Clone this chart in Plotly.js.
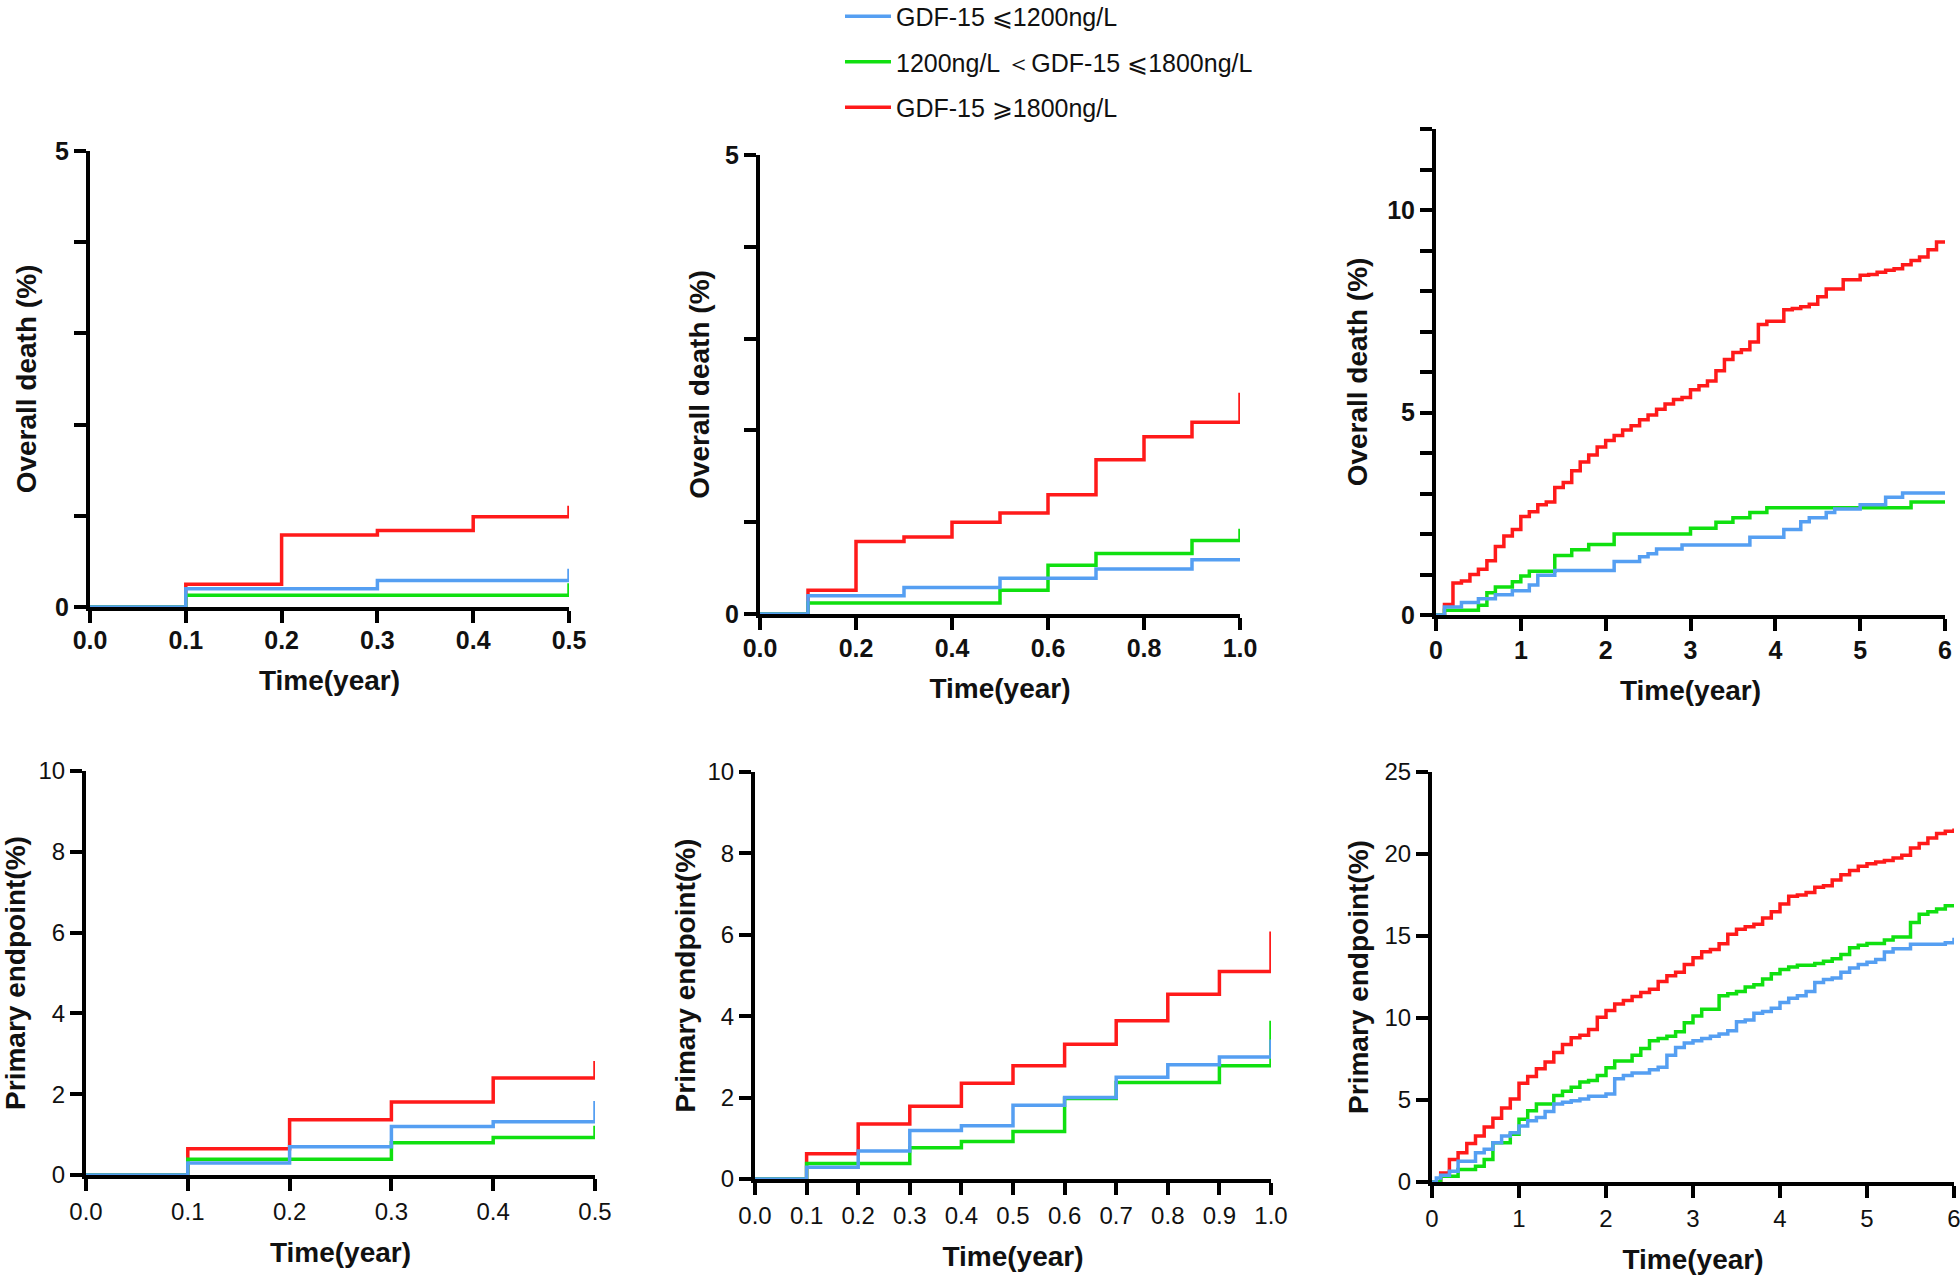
<!DOCTYPE html>
<html><head><meta charset="utf-8">
<script src="https://cdn.plot.ly/plotly-3.0.1.min.js"></script>
<style>html,body{margin:0;padding:0;background:#fff}#chart{width:1960px;height:1280px}</style>
</head><body><div id="chart"></div>
<script>
// Legend labels (groups)
const groupNames = ['GDF-15 \u2A7D1200ng/L', '1200ng/L \uFF1CGDF-15 \u2A7D1800ng/L', 'GDF-15 \u2A7E1800ng/L'];
const groupColors = ['#559FF2', '#10E010', '#FF1A1A'];

// Axis titles
const titleDeath = 'Overall death (%)';
const titlePrimary = 'Primary endpoint(%)';
const titleTime = 'Time(year)';

// Tick labels
const xTicksHalfVals = [0, 0.1, 0.2, 0.3, 0.4, 0.5];
const xTicksHalfText = ['0.0', '0.1', '0.2', '0.3', '0.4', '0.5'];
const xTicksYearVals = [0, 0.2, 0.4, 0.6, 0.8, 1.0];
const xTicksYearText = ['0.0', '0.2', '0.4', '0.6', '0.8', '1.0'];
const xTicksYearFineVals = [0, 0.1, 0.2, 0.3, 0.4, 0.5, 0.6, 0.7, 0.8, 0.9, 1.0];
const xTicksYearFineText = ['0.0', '0.1', '0.2', '0.3', '0.4', '0.5', '0.6', '0.7', '0.8', '0.9', '1.0'];
const xTicksSixVals = [0, 1, 2, 3, 4, 5, 6];
const xTicksSixText = ['0', '1', '2', '3', '4', '5', '6'];
const yTicksDeath5Vals = [0, 1, 2, 3, 4, 5];
const yTicksDeath5Text = ['0', '', '', '', '', '5'];
const yTicksDeath12Vals = [0, 1, 2, 3, 4, 5, 6, 7, 8, 9, 10, 11, 12];
const yTicksDeath12Text = ['0', '', '', '', '', '5', '', '', '', '', '10', '', ''];
const yTicksPrim10Vals = [0, 2, 4, 6, 8, 10];
const yTicksPrim10Text = ['0', '2', '4', '6', '8', '10'];
const yTicksPrim25Vals = [0, 5, 10, 15, 20, 25];
const yTicksPrim25Text = ['0', '5', '10', '15', '20', '25'];

// ---- Panel A: overall death, 0-0.5 year ----
const odHalfLowT = [0, 0.1, 0.3, 0.5];
const odHalfLowY = [0, 0.20, 0.29, 0.42];
const odHalfMidT = [0, 0.1, 0.5];
const odHalfMidY = [0, 0.13, 0.26];
const odHalfHighT = [0, 0.1, 0.2, 0.3, 0.4, 0.5];
const odHalfHighY = [0, 0.25, 0.79, 0.84, 0.99, 1.11];

// ---- Panel B: overall death, 0-1 year ----
const od1LowT = [0, 0.1, 0.3, 0.5, 0.7, 0.9, 1.0];
const od1LowY = [0, 0.20, 0.29, 0.39, 0.49, 0.59, 0.59];
const od1MidT = [0, 0.1, 0.5, 0.6, 0.7, 0.9, 1.0];
const od1MidY = [0, 0.12, 0.26, 0.53, 0.66, 0.80, 0.93];
const od1HighT = [0, 0.1, 0.2, 0.3, 0.4, 0.5, 0.6, 0.7, 0.8, 0.9, 1.0];
const od1HighY = [0, 0.26, 0.79, 0.84, 1.00, 1.10, 1.30, 1.68, 1.93, 2.09, 2.41];

// ---- Panel C: overall death, 0-6 years ----
const od6LowT = [0, 0.1, 0.3, 0.5, 0.7, 0.9, 1.1, 1.2, 1.4, 2.1, 2.4, 2.5, 2.6, 2.9, 3.7, 4.1, 4.3, 4.4, 4.6, 4.7, 5.0, 5.3, 5.5, 6.0];
const od6LowY = [0, 0.20, 0.31, 0.40, 0.50, 0.60, 0.74, 0.98, 1.10, 1.32, 1.44, 1.51, 1.63, 1.73, 1.92, 2.11, 2.30, 2.40, 2.53, 2.62, 2.72, 2.91, 3.01, 3.01];
const od6MidT = [0, 0.1, 0.5, 0.6, 0.7, 0.9, 1.0, 1.1, 1.4, 1.6, 1.8, 2.1, 3.0, 3.3, 3.5, 3.7, 3.9, 5.6, 6.0];
const od6MidY = [0, 0.12, 0.24, 0.55, 0.69, 0.82, 0.96, 1.08, 1.47, 1.61, 1.74, 2.00, 2.14, 2.29, 2.40, 2.53, 2.65, 2.79, 2.79];
const od6HighT = [0, 0.1, 0.2, 0.3, 0.4, 0.5, 0.6, 0.7, 0.8, 0.9, 1.0, 1.1, 1.2, 1.3, 1.4, 1.5, 1.6, 1.7, 1.8, 1.9,
  2.0, 2.1, 2.2, 2.3, 2.4, 2.5, 2.6, 2.7, 2.8, 2.9, 3.0, 3.1, 3.2, 3.3, 3.4, 3.5, 3.6, 3.7, 3.8, 3.9,
  4.1, 4.2, 4.3, 4.4, 4.5, 4.6, 4.8, 5.0, 5.1, 5.2, 5.3, 5.4, 5.5, 5.6, 5.7, 5.8, 5.9, 6.0];
const od6HighY = [0, 0.26, 0.79, 0.84, 1.00, 1.13, 1.34, 1.69, 1.95, 2.11, 2.43, 2.55, 2.72, 2.79, 3.15, 3.27, 3.56, 3.78, 3.95, 4.15,
  4.31, 4.43, 4.57, 4.67, 4.82, 4.94, 5.08, 5.21, 5.32, 5.37, 5.56, 5.66, 5.78, 6.03, 6.31, 6.48, 6.55, 6.74, 7.17, 7.25,
  7.54, 7.57, 7.61, 7.67, 7.86, 8.05, 8.28, 8.39, 8.41, 8.46, 8.51, 8.55, 8.65, 8.75, 8.84, 9.02, 9.21, 9.25];

// ---- Panel D: primary endpoint, 0-0.5 year ----
const peHalfLowT = [0, 0.1, 0.2, 0.3, 0.4, 0.5];
const peHalfLowY = [0, 0.30, 0.70, 1.20, 1.32, 1.83];
const peHalfMidT = [0, 0.1, 0.3, 0.4, 0.5];
const peHalfMidY = [0, 0.39, 0.80, 0.93, 1.22];
const peHalfHighT = [0, 0.1, 0.2, 0.3, 0.4, 0.5];
const peHalfHighY = [0, 0.65, 1.37, 1.81, 2.40, 2.82];

// ---- Panel E: primary endpoint, 0-1 year ----
const pe1LowT = [0, 0.1, 0.2, 0.3, 0.4, 0.5, 0.6, 0.7, 0.8, 0.9, 1.0];
const pe1LowY = [0, 0.29, 0.69, 1.19, 1.31, 1.81, 2.00, 2.50, 2.81, 3.00, 3.43];
const pe1MidT = [0, 0.1, 0.3, 0.4, 0.5, 0.6, 0.7, 0.9, 1.0];
const pe1MidY = [0, 0.38, 0.77, 0.92, 1.17, 1.98, 2.37, 2.78, 3.89];
const pe1HighT = [0, 0.1, 0.2, 0.3, 0.4, 0.5, 0.6, 0.7, 0.8, 0.9, 1.0];
const pe1HighY = [0, 0.62, 1.35, 1.79, 2.35, 2.78, 3.31, 3.89, 4.54, 5.10, 6.08];

// ---- Panel F: primary endpoint, 0-6 years ----
const pe6LowT = [0, 0.05, 0.1, 0.2, 0.3, 0.5, 0.6, 0.7, 0.8, 0.9, 1.0, 1.1, 1.2, 1.3, 1.4, 1.5, 1.6, 1.7, 1.8,
  2.0, 2.1, 2.2, 2.3, 2.5, 2.6, 2.7, 2.8, 2.9, 3.0, 3.1, 3.2, 3.3, 3.4, 3.5, 3.6, 3.7, 3.8, 3.9,
  4.0, 4.1, 4.2, 4.3, 4.4, 4.5, 4.6, 4.7, 4.8, 4.9, 5.0, 5.1, 5.2, 5.3, 5.5, 5.9, 6.0];
const pe6LowY = [0, 0.25, 0.41, 0.66, 1.27, 1.78, 1.99, 2.40, 2.81, 3.01, 3.42, 3.73, 3.93, 4.30, 4.75, 4.86, 4.96, 5.06, 5.23,
  5.37, 6.29, 6.50, 6.64, 6.84, 7.00, 7.73, 8.20, 8.48, 8.61, 8.75, 8.89, 9.02, 9.22, 9.77, 9.88, 10.29, 10.39, 10.59,
  10.94, 11.21, 11.35, 11.62, 12.17, 12.34, 12.44, 12.79, 13.05, 13.26, 13.40, 13.57, 14.02, 14.22, 14.49, 14.59, 14.90];
const pe6MidT = [0, 0.1, 0.3, 0.5, 0.6, 0.7, 0.9, 1.0, 1.1, 1.2, 1.4, 1.5, 1.6, 1.7, 1.8, 1.9,
  2.0, 2.1, 2.3, 2.4, 2.5, 2.6, 2.7, 2.8, 2.9, 3.0, 3.1, 3.3, 3.4, 3.5, 3.6, 3.7, 3.8, 3.9,
  4.0, 4.1, 4.2, 4.4, 4.5, 4.6, 4.7, 4.8, 4.9, 5.0, 5.2, 5.3, 5.5, 5.6, 5.7, 5.8, 5.9, 6.0];
const pe6MidY = [0, 0.35, 0.76, 0.96, 1.37, 2.40, 2.91, 3.83, 4.34, 4.75, 5.27, 5.53, 5.78, 6.09, 6.19, 6.50,
  6.97, 7.38, 7.73, 8.14, 8.61, 8.75, 8.89, 9.16, 9.71, 10.12, 10.53, 11.35, 11.48, 11.62, 11.89, 12.03, 12.38, 12.70,
  12.95, 13.11, 13.22, 13.32, 13.46, 13.61, 13.87, 14.28, 14.43, 14.55, 14.75, 14.94, 15.82, 16.33, 16.48, 16.64, 16.84, 16.95];
const pe6HighT = [0, 0.1, 0.2, 0.3, 0.4, 0.5, 0.6, 0.7, 0.8, 0.9, 1.0, 1.1, 1.2, 1.3, 1.4, 1.5, 1.6, 1.7, 1.8, 1.9,
  2.0, 2.1, 2.2, 2.3, 2.4, 2.5, 2.6, 2.7, 2.8, 2.9, 3.0, 3.1, 3.2, 3.3, 3.4, 3.5, 3.6, 3.7, 3.8, 3.9,
  4.0, 4.1, 4.2, 4.3, 4.4, 4.5, 4.6, 4.7, 4.8, 4.9, 5.0, 5.1, 5.2, 5.3, 5.4, 5.5, 5.6, 5.7, 5.8, 5.9, 6.0];
const pe6HighY = [0, 0.55, 1.37, 1.78, 2.34, 2.81, 3.36, 3.89, 4.51, 5.06, 6.02, 6.43, 6.91, 7.32, 7.89, 8.38, 8.79, 8.95, 9.30, 10.04,
  10.45, 10.86, 11.07, 11.31, 11.56, 11.76, 12.23, 12.58, 12.79, 13.26, 13.67, 14.04, 14.18, 14.53, 15.10, 15.41, 15.57, 15.72, 16.09, 16.48,
  16.95, 17.42, 17.50, 17.66, 17.97, 18.07, 18.42, 18.73, 19.00, 19.26, 19.41, 19.51, 19.61, 19.75, 19.92, 20.37, 20.64, 20.98, 21.25, 21.39, 21.56];

const FONT = 'Liberation Sans, Arial, Helvetica, sans-serif';

const panels = [
  {ax: '', series: [[odHalfLowT, odHalfLowY], [odHalfMidT, odHalfMidY], [odHalfHighT, odHalfHighY]]},
  {ax: '2', series: [[od1LowT, od1LowY], [od1MidT, od1MidY], [od1HighT, od1HighY]]},
  {ax: '3', series: [[od6LowT, od6LowY], [od6MidT, od6MidY], [od6HighT, od6HighY]]},
  {ax: '4', series: [[peHalfLowT, peHalfLowY], [peHalfMidT, peHalfMidY], [peHalfHighT, peHalfHighY]]},
  {ax: '5', series: [[pe1LowT, pe1LowY], [pe1MidT, pe1MidY], [pe1HighT, pe1HighY]]},
  {ax: '6', series: [[pe6LowT, pe6LowY], [pe6MidT, pe6MidY], [pe6HighT, pe6HighY]]}
];

const traces = [];
panels.forEach((p, pi) => {
  // draw high first, then mid, then low (low on top)
  [2, 1, 0].forEach(g => {
    traces.push({
      type: 'scatter', mode: 'lines',
      x: p.series[g][0], y: p.series[g][1],
      xaxis: 'x' + p.ax, yaxis: 'y' + p.ax,
      line: {shape: 'hv', color: groupColors[g], width: 3.5},
      name: groupNames[g], legendgroup: 'g' + g, legendrank: g + 1,
      showlegend: pi === 0, hoverinfo: 'x+y'
    });
  });
});

function axBase(bold, size) {
  return {
    showline: true, linewidth: 4, linecolor: '#000', mirror: false,
    ticks: 'outside', ticklen: 12, tickwidth: 4, tickcolor: '#000',
    showgrid: false, zeroline: false, layer: 'below traces',
    tickfont: {family: FONT, size: size, color: '#111', weight: bold ? 'bold' : 'normal'},
    automargin: false, fixedrange: true, ticklabeloverflow: 'allow'
  };
}
function xAxis(domain, anchor, range, vals, text, bold, standoff, lblOff) {
  return Object.assign(axBase(bold, bold ? 25 : 24), {
    domain: domain, anchor: anchor, range: range, tickmode: 'array', tickvals: vals, ticktext: text,
    ticklabelstandoff: lblOff,
    title: {text: titleTime, font: {family: FONT, size: 28, color: '#111', weight: 'bold'}, standoff: standoff}
  });
}
function yAxis(domain, anchor, range, vals, text, bold, title, standoff) {
  return Object.assign(axBase(bold, bold ? 25 : 24), {
    domain: domain, anchor: anchor, range: range, tickmode: 'array', tickvals: vals, ticktext: text,
    title: {text: title, font: {family: FONT, size: 28, color: '#111', weight: 'bold'}, standoff: standoff}
  });
}
const W = 1960, H = 1280;
const dx = (a, b) => [a / W, b / W];
const dy = (top, bottom) => [1 - bottom / H, 1 - top / H];

const layout = {
  width: W, height: H, margin: {l: 0, r: 0, t: 0, b: 0, autoexpand: false},
  paper_bgcolor: '#fff', plot_bgcolor: 'rgba(0,0,0,0)',
  font: {family: FONT, color: '#111'},
  showlegend: true,
  legend: {x: 840 / W, xanchor: 'left', y: 1.005, yanchor: 'top', orientation: 'v',
    traceorder: 'grouped', tracegroupgap: 10, font: {family: FONT, size: 25, color: '#111'},
    bgcolor: 'rgba(0,0,0,0)', itemwidth: 46},
  xaxis: xAxis(dx(90, 569), 'y', [0, 0.5], xTicksHalfVals, xTicksHalfText, true, 18, -4),
  yaxis: yAxis(dy(151, 607), 'x', [0, 5], yTicksDeath5Vals, yTicksDeath5Text, true, titleDeath, 11),
  xaxis2: xAxis(dx(760, 1240), 'y2', [0, 1], xTicksYearVals, xTicksYearText, true, 18, -3),
  yaxis2: yAxis(dy(155, 614), 'x2', [0, 5], yTicksDeath5Vals, yTicksDeath5Text, true, titleDeath, 8),
  xaxis3: xAxis(dx(1436, 1945), 'y3', [0, 6], xTicksSixVals, xTicksSixText, true, 18, -2),
  yaxis3: yAxis(dy(129, 615), 'x3', [0, 12], yTicksDeath12Vals, yTicksDeath12Text, true, titleDeath, 12),
  xaxis4: xAxis(dx(86, 595), 'y4', [0, 0.5], xTicksHalfVals, xTicksHalfText, false, 20, 0),
  yaxis4: yAxis(dy(771, 1175), 'x4', [0, 10], yTicksPrim10Vals, yTicksPrim10Text, false, titlePrimary, 14),
  xaxis5: xAxis(dx(755, 1271), 'y5', [0, 1], xTicksYearFineVals, xTicksYearFineText, false, 20, 0),
  yaxis5: yAxis(dy(772, 1179), 'x5', [0, 10], yTicksPrim10Vals, yTicksPrim10Text, false, titlePrimary, 5),
  xaxis6: xAxis(dx(1432, 1954), 'y6', [0, 6], xTicksSixVals, xTicksSixText, false, 20, 0),
  yaxis6: yAxis(dy(772, 1182), 'x6', [0, 25], yTicksPrim25Vals, yTicksPrim25Text, false, titlePrimary, 9)
};

Plotly.newPlot('chart', traces, layout, {staticPlot: true, displayModeBar: false});
</script>
</body></html>
